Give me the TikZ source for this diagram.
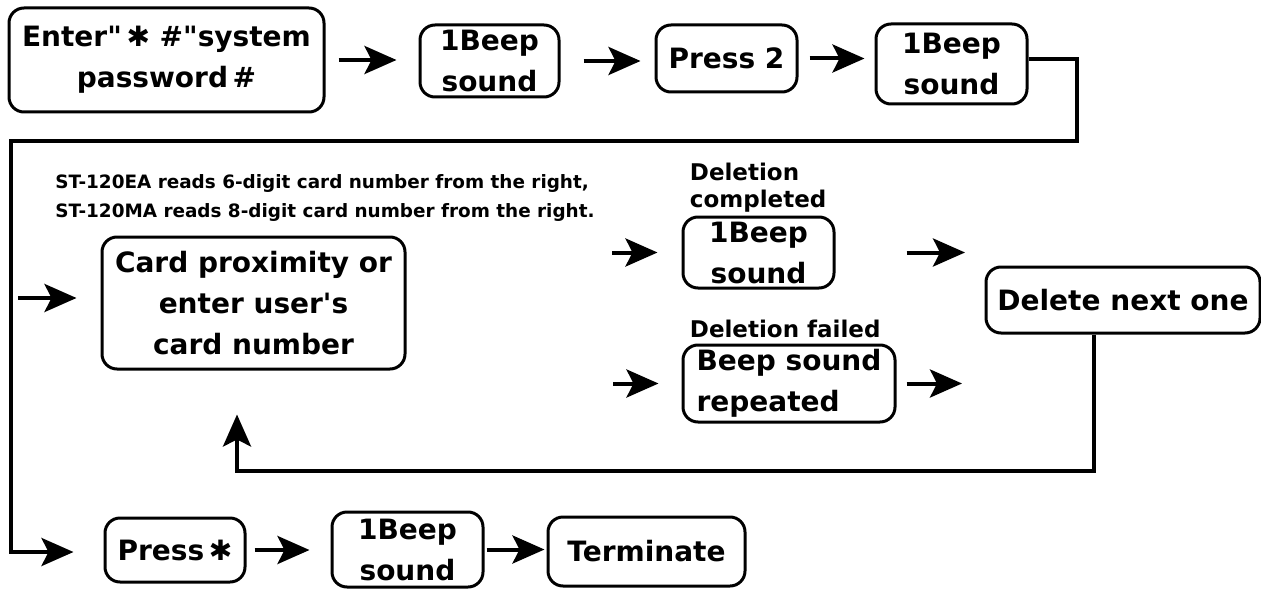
\documentclass[tikz,border=0pt]{standalone}
\usepackage{fontspec}
\setmainfont{DejaVu Sans}[Ligatures=TeXOff]
\usetikzlibrary{arrows.meta}
\tikzset{
  stepBox/.style={
    draw,
    line width=1.5pt,
    rounded corners=7.5pt,
    inner sep=0pt,
    align=center,
    font=\boxFont
  },
  flowLine/.style={line width=2pt},
  flowArrow/.style={
    flowLine,
    -{Stealth[length=16pt,width=14pt,inset=3.5pt]}
  },
  sideLabel/.style={font=\labelFont, align=left, anchor=south west, inner sep=0pt}
}
\newlength\pxUnit
\setlength\pxUnit{0.5pt}
\newcommand\boxFont{\bfseries\fontsize{14}{20.5}\selectfont}
\newcommand\labelFont{\bfseries\fontsize{11.5}{13.5}\selectfont}
\newcommand\noteFont{\bfseries\fontsize{9.2}{14.5}\selectfont}

\begin{document}
\begin{tikzpicture}[x=\pxUnit, y=-\pxUnit]
    \fill[white] (0,0) rectangle (1261,588);
    \useasboundingbox (0,0) rectangle (1261,588);

    % top row
    \node[stepBox, minimum width=315*\pxUnit, minimum height=104*\pxUnit] (enter) at (166.5,60)
      {Enter"\,✱\ \#"system\\password\,\#};
    \node[stepBox, minimum width=139*\pxUnit, minimum height=72*\pxUnit] (beepA) at (489.5,61) {1Beep\\sound};
    \node[stepBox, minimum width=141*\pxUnit, minimum height=67*\pxUnit] (pressTwo) at (726.5,58.5) {Press 2};
    \node[stepBox, minimum width=151*\pxUnit, minimum height=80*\pxUnit] (beepB) at (951.5,64) {1Beep\\sound};

    \draw[flowArrow, shorten <=6.5pt, shorten >=11pt] (enter.east) -- (enter.east -| beepA.west);
    \draw[flowArrow, shorten <=11.5pt, shorten >=7pt] (beepA.east) -- (beepA.east -| pressTwo.west);
    \draw[flowArrow, shorten <=5.5pt, shorten >=5pt] (pressTwo.east) -- (pressTwo.east -| beepB.west);

    % return line down the left side
    \coordinate (turnA) at (1077,141);
    \coordinate (turnB) at (11,141);
    \coordinate (turnC) at (11,552);
    \coordinate (branch) at (11,298);

    % middle part
    \node[font=\noteFont, align=left, anchor=west, inner sep=0pt] (note) at (55,197.5)
      {ST-120EA reads 6-digit card number from the right,\\ST-120MA reads 8-digit card number from the right.};
    \node[stepBox, minimum width=303*\pxUnit, minimum height=132*\pxUnit] (card) at (253.5,303)
      {Card proximity or\\enter user's\\card number};

    \node[stepBox, minimum width=151*\pxUnit, minimum height=71*\pxUnit] (beepOk) at (758.5,252.5) {1Beep\\sound};
    \node[sideLabel] (okLabel) at ([xshift=4pt, yshift=1.5pt]beepOk.north west) {Deletion\\completed};
    \node[stepBox, align=left, minimum width=212*\pxUnit, minimum height=77*\pxUnit] (beepRep) at (789,383.5)
      {Beep sound\\repeated};
    \node[sideLabel] (failLabel) at ([xshift=4pt, yshift=2.5pt]beepRep.north west) {Deletion failed};

    \node[stepBox, minimum width=274*\pxUnit, minimum height=66*\pxUnit] (nextOne) at (1123,300) {Delete next one};

    \coordinate (okIn) at (612,252.5);
    \coordinate (repIn) at (613,383.5);
    \coordinate (okEnd) at (965,252.5);
    \coordinate (repEnd) at (962,383.5);
    \coordinate (loopA) at (1094,471);
    \coordinate (loopB) at (237,471);

    \draw[flowArrow, shorten <=3.5pt, shorten >=12pt] (branch) -- (branch -| card.west);
    \draw[flowArrow, shorten >=12pt] (okIn) -- (okIn -| beepOk.west);
    \draw[flowArrow, shorten >=11.5pt] (repIn) -- (repIn -| beepRep.west);
    \draw[flowArrow, shorten <=35.5pt] (beepOk.east) -- (okEnd);
    \draw[flowArrow, shorten <=5pt] (beepRep.east) -- (repEnd);
    \draw[flowArrow, shorten >=22pt] (nextOne.south -| loopA) -- (loopA) -- (loopB) -- (loopB |- card.south);

    % bottom row
    \node[stepBox, minimum width=140*\pxUnit, minimum height=64*\pxUnit] (pressStar) at (175,550) {Press\,✱};
    \node[stepBox, minimum width=151*\pxUnit, minimum height=75*\pxUnit] (beepEnd) at (407.5,549.5) {1Beep\\sound};
    \node[stepBox, minimum width=197*\pxUnit, minimum height=69*\pxUnit] (terminate) at (646.5,551.5) {Terminate};

    \draw[flowArrow, shorten >=15pt]
      ([yshift=2.5pt]beepB.east) -| (turnA) -- (turnB) -- (turnC) -- (turnC -| pressStar.west);
    \draw[flowArrow, shorten <=4pt, shorten >=10.5pt] (pressStar.east) -- (pressStar.east -| beepEnd.west);
    \draw[flowArrow, shorten <=1pt, shorten >=1pt] (beepEnd.east) -- (beepEnd.east -| terminate.west);
\end{tikzpicture}
\end{document}
